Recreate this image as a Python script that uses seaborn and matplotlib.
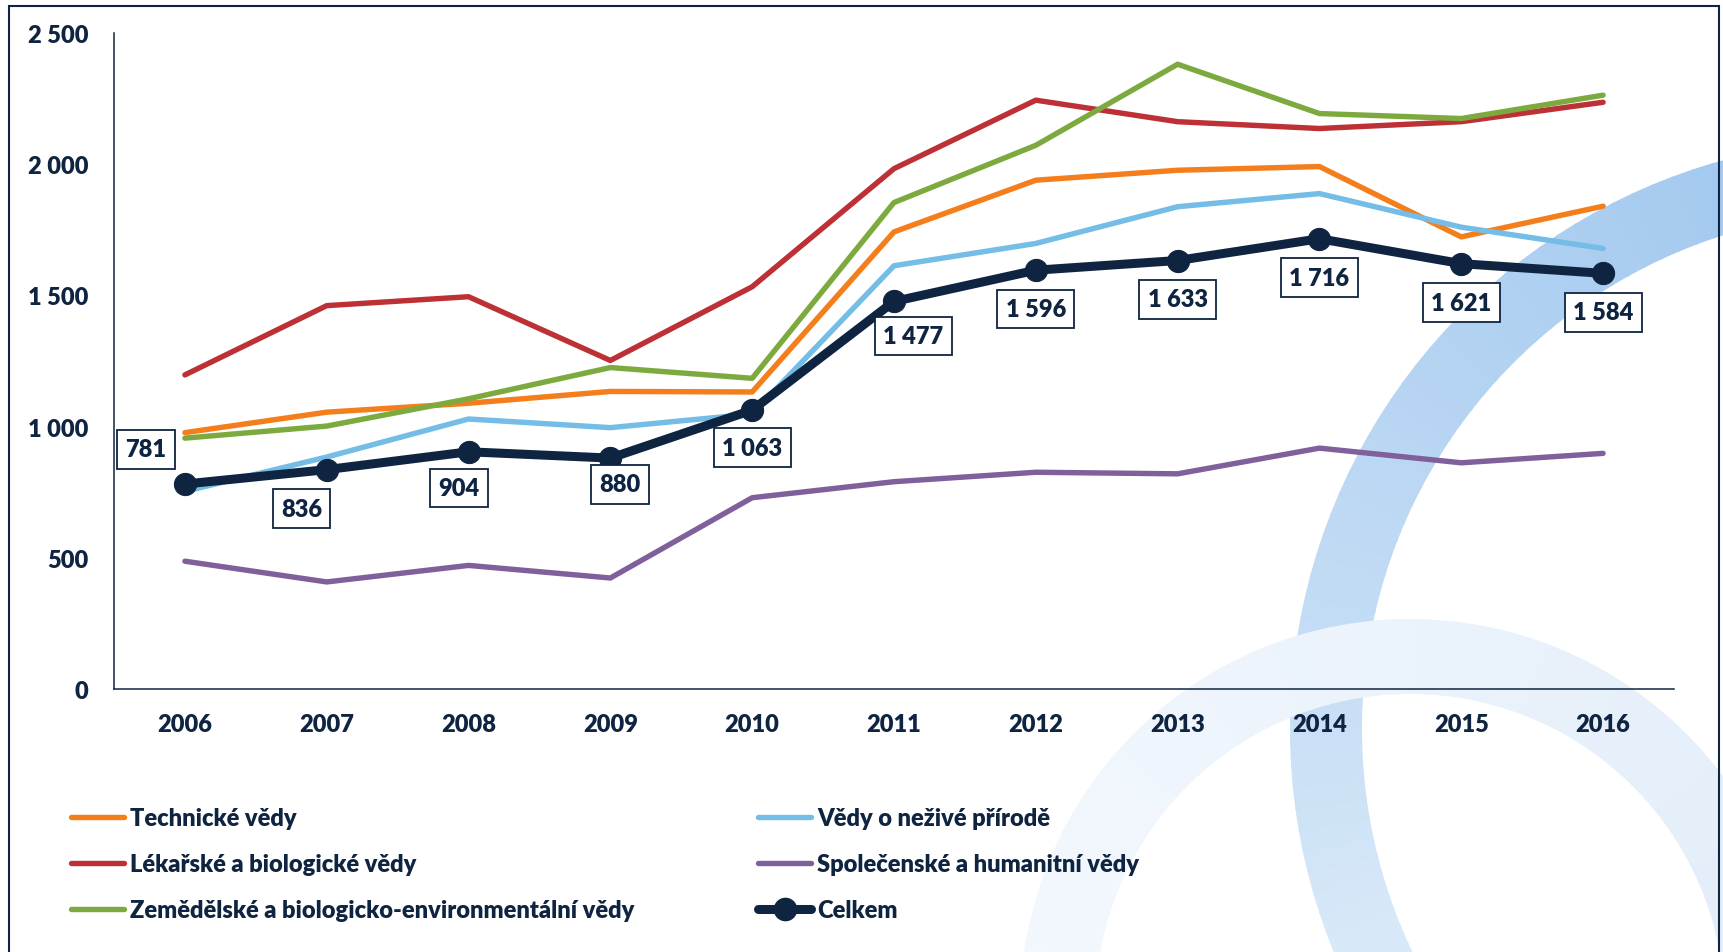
import matplotlib.pyplot as plt
import matplotlib.colors as mcolors
import numpy as np
import seaborn as sns
from matplotlib.patches import Wedge, Rectangle
from matplotlib.lines import Line2D
from matplotlib.ticker import FuncFormatter

# data
years = [2006, 2007, 2008, 2009, 2010, 2011, 2012, 2013, 2014, 2015, 2016]
technicke = [977, 1055, 1089, 1134, 1132, 1742, 1939, 1977, 1991, 1723, 1840]
nezive = [753, 884, 1029, 996, 1048, 1613, 1698, 1838, 1888, 1760, 1679]
lekarske = [1197, 1461, 1495, 1252, 1533, 1983, 2244, 2162, 2136, 2162, 2236]
spolecenske = [487, 408, 471, 423, 729, 790, 826, 820, 918, 862, 898]
zemedelske = [956, 1002, 1106, 1225, 1184, 1854, 2072, 2381, 2193, 2174, 2263]
celkem = [781, 836, 904, 880, 1063, 1477, 1596, 1633, 1716, 1621, 1584]

names = ['Technické vědy', 'Vědy o neživé přírodě', 'Lékařské a biologické vědy',
         'Společenské a humanitní vědy', 'Zemědělské a biologicko-environmentální vědy', 'Celkem']
colors = ['#F47E1C', '#74BDE6', '#BD3036', '#80609A', '#7DAA3F', '#0F2441']
series = [technicke, nezive, lekarske, spolecenske, zemedelske, celkem]

# label offsets (points) for Celkem data labels
label_offsets = [(-28, 25), (-18, -28), (-7, -26), (7, -19), (0, -27), (14, -25),
                 (0, -28), (0, -28), (0, -28), (0, -28), (0, -28)]

navy = '#0F2441'
fw = 'heavy'
sns.set_style('white')
plt.rcParams['font.family'] = ['Lato', 'DejaVu Sans']
plt.rcParams['font.weight'] = fw

W, H = 1723, 953
fig = plt.figure(figsize=(W / 100, H / 100), dpi=100)

# background watermark arcs
bg = fig.add_axes([0, 0, 1, 1], zorder=0)
bg.set_xlim(0, W)
bg.set_ylim(H, 0)
bg.axis('off')

c_dark = np.array(mcolors.to_rgb('#9EC6EE'))
c_light = np.array(mcolors.to_rgb('#E2EEFA'))
n = 60
angs = np.linspace(145, 270, n + 1)
for i in range(n):
    t = (i / (n - 1)) ** 0.8
    col = c_light * (1 - t) + c_dark * t
    bg.add_patch(Wedge((1880, 730), 590, angs[i], angs[i + 1] + 0.3, width=72,
                       facecolor=col, edgecolor='none'))
c2a = np.array(mcolors.to_rgb('#F3F8FD'))
c2b = np.array(mcolors.to_rgb('#E2EDF9'))
angs2 = np.linspace(180, 360, n + 1)
for i in range(n):
    t = i / (n - 1)
    col = c2a * (1 - t) + c2b * t
    bg.add_patch(Wedge((1410, 1010), 390, angs2[i], angs2[i + 1] + 0.3, width=75,
                       facecolor=col, edgecolor='none'))

# main axes
ax = fig.add_axes([114 / W, 1 - 690 / H, (1674 - 114) / W, (690 - 34) / H], zorder=1)
ax.patch.set_alpha(0)

handles = []
for name, vals, col in zip(names, series, colors):
    if name == 'Celkem':
        sns.lineplot(x=years, y=vals, ax=ax, color=col, linewidth=6.5, marker='o',
                     markersize=16, markeredgecolor=col, zorder=5)
        handles.append(Line2D([], [], color=col, linewidth=6.5, marker='o', markersize=16))
    else:
        sns.lineplot(x=years, y=vals, ax=ax, color=col, linewidth=3.9,
                     solid_capstyle='round')
        handles.append(Line2D([], [], color=col, linewidth=3.9, solid_capstyle='round'))

for yr, v, off in zip(years, celkem, label_offsets):
    ax.annotate(f'{v:,}'.replace(',', ' '), (yr, v), xytext=off, textcoords='offset points',
                ha='center', va='center', fontsize=17, fontweight=fw, color=navy,
                bbox=dict(boxstyle='square,pad=0.35', facecolor='white', edgecolor=navy,
                          linewidth=1.3), zorder=6)

ax.set_xlim(2005.5, 2016.5)
ax.set_ylim(0, 2500)
ax.set_xticks(years)
ax.set_yticks([0, 500, 1000, 1500, 2000, 2500])
ax.yaxis.set_major_formatter(FuncFormatter(lambda v, p: f'{int(v):,}'.replace(',', ' ')))
ax.tick_params(axis='y', length=0, pad=18.5, labelsize=17, labelcolor=navy)
ax.tick_params(axis='x', length=0, pad=17, labelsize=17, labelcolor=navy)
for lab in ax.get_xticklabels() + ax.get_yticklabels():
    lab.set_fontweight(fw)
for s in ['top', 'right']:
    ax.spines[s].set_visible(False)
for s in ['left', 'bottom']:
    ax.spines[s].set_color(navy)
    ax.spines[s].set_linewidth(1.1)

# legend in two columns
leg_kw = dict(loc='upper left', frameon=False, fontsize=17, handlelength=2.25,
              handletextpad=0.25, labelspacing=1.02, borderpad=0, borderaxespad=0,
              labelcolor=navy)
col1 = [0, 2, 4]
col2 = [1, 3, 5]
l1 = fig.legend([handles[i] for i in col1], [names[i] for i in col1],
                bbox_to_anchor=(71 / W, 1 - 808 / H), **leg_kw)
l2 = fig.legend([handles[i] for i in col2], [names[i] for i in col2],
                bbox_to_anchor=(758 / W, 1 - 808 / H), **leg_kw)
for lg in (l1, l2):
    for t in lg.get_texts():
        t.set_fontweight(fw)

# outer frame
fig.add_artist(Rectangle((8.5 / W, -0.01), (1719 - 8.5) / W, 1 - 7 / H + 0.01,
                         transform=fig.transFigure, fill=False, edgecolor=navy,
                         linewidth=1.5, zorder=10))

fig.savefig('out.png', dpi=100)
